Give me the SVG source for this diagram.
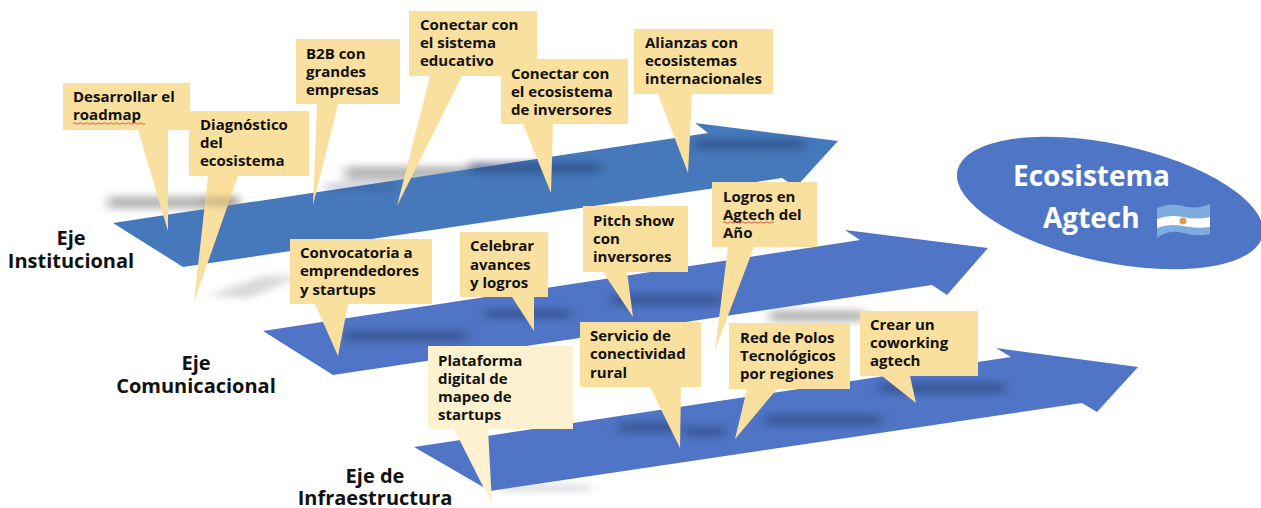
<svg xmlns="http://www.w3.org/2000/svg" width="1261" height="508" viewBox="0 0 1261 508">
<style>
.c{fill:#FAE09F}
.c2{fill:#FDF1CF}
.t{font:700 15px "Open Sans",sans-serif;fill:#111}
.l{font:700 20px "Open Sans",sans-serif;fill:#111;text-anchor:middle}
.w{font:700 28px "Open Sans",sans-serif;fill:#fff}
.a1{fill:#4679BC}
.a2{fill:#5175C6}
.sg{fill:#666;opacity:.45;filter:url(#b)}
.sd{fill:#2a4478;opacity:.55;filter:url(#b)}
.f{opacity:.25}
.sq{fill:none;stroke:#d9534a;stroke-width:1}
</style>
<defs>
<filter id="b" x="-30%" y="-200%" width="160%" height="500%"><feGaussianBlur stdDeviation="6 3.500"/></filter>
</defs>
<rect width="1261" height="508" fill="#fff"/>
<g id="sombras-fondo">
<rect class="sg" x="108" y="196" width="130" height="13"/>
<rect class="sg" x="345" y="166" width="140" height="15"/>
<polygon class="sg f" points="208,296 262,276 300,276 250,298"/>
<rect class="sg" x="770" y="310" width="95" height="12"/>
<rect class="sg f" x="500" y="485" width="90" height="6"/>
</g>
<g id="ejes">
<polygon id="eje-institucional" class="a1" points="113,223 708,133 695,123 838,141 796,187 782,178 183,267"/>
<polygon id="eje-comunicacional" class="a2" points="263,331 860,240 845,230 988,248 947,295 932,285 333,375"/>
<polygon id="eje-infraestructura" class="a2" points="414,447 1011,357 996,348 1138,367 1097,412 1082,403 490,491"/>
</g>
<g id="sombras-ejes">
<rect class="sd" x="470" y="162" width="130" height="12"/>
<rect class="sd" x="695" y="139" width="110" height="11"/>
<rect class="sd f" x="325" y="183" width="70" height="8"/>
<rect class="sd" x="345" y="330" width="120" height="12"/>
<rect class="sd" x="485" y="309" width="85" height="10"/>
<rect class="sd" x="612" y="294" width="110" height="12"/>
<rect class="sd" x="618" y="422" width="60" height="11"/>
<rect class="sd" x="685" y="426" width="40" height="11"/>
<rect class="sd" x="765" y="414" width="115" height="12"/>
<rect class="sd" x="880" y="382" width="125" height="12"/>
</g>
<g id="nodo-desarrollar">
<polygon class="c" points="63,83 190,83 190,130 168,130 168,231 138,130 63,130"/>
<text class="t" x="73" y="102">Desarrollar el</text><text class="t" x="73" y="120">roadmap</text>
<path class="sq" d="M73 123.500q1.500 -1.500 3 0t3 0t3 0t3 0t3 0t3 0t3 0t3 0t3 0t3 0t3 0t3 0t3 0t3 0t3 0t3 0t3 0t3 0t3 0t3 0t3 0t3 0t3 0t3 0"/>
</g>
<g id="nodo-diagnostico">
<polygon class="c" points="189,111 309,111 309,176 238,176 194,302 208,176 189,176"/>
<text class="t" x="200" y="130">Diagnóstico</text><text class="t" x="200" y="148">del</text><text class="t" x="200" y="166">ecosistema</text>
</g>
<rect x="203" y="197" width="34" height="9" fill="#8a7a50" opacity=".4" style="filter:url(#b)"/>
<g id="nodo-b2b">
<polygon class="c" points="296,39 400,39 400,104 338,104 313,205 317,104 296,104"/>
<text class="t" x="306" y="59">B2B con</text><text class="t" x="306" y="77">grandes</text><text class="t" x="306" y="95">empresas</text>
</g>
<g id="nodo-sistema-educativo">
<polygon class="c" points="409,11 537,11 537,76 462,76 397,206 430,76 409,76"/>
<text class="t" x="420" y="30">Conectar con</text><text class="t" x="420" y="48">el sistema</text><text class="t" x="420" y="66">educativo</text>
</g>
<g id="nodo-inversores">
<polygon class="c" points="501,59 628,59 628,124 553,124 551,193 523,124 501,124"/>
<text class="t" x="511" y="79">Conectar con</text><text class="t" x="511" y="97">el ecosistema</text><text class="t" x="511" y="115">de inversores</text>
</g>
<g id="nodo-alianzas">
<polygon class="c" points="634,29 773,29 773,94 692,94 688,173 658,94 634,94"/>
<text class="t" x="645" y="48">Alianzas con</text><text class="t" x="645" y="66">ecosistemas</text><text class="t" x="645" y="84">internacionales</text>
</g>
<g id="nodo-convocatoria">
<polygon class="c" points="290,239 432,239 432,304 348,304 338,356 315,304 290,304"/>
<text class="t" x="300" y="258">Convocatoria a</text><text class="t" x="300" y="276">emprendedores</text><text class="t" x="300" y="295">y startups</text>
</g>
<g id="nodo-celebrar">
<polygon class="c" points="460,232 548,232 548,297 534,297 534,331 512,297 460,297"/>
<text class="t" x="470" y="251">Celebrar</text><text class="t" x="470" y="270">avances</text><text class="t" x="470" y="288">y logros</text>
</g>
<g id="nodo-pitch">
<polygon class="c" points="583,206 688,206 688,272 627,272 633,317 603,272 583,272"/>
<text class="t" x="593" y="226">Pitch show</text><text class="t" x="593" y="244">con</text><text class="t" x="593" y="262">inversores</text>
</g>
<g id="nodo-logros">
<polygon class="c" points="712,182 817,182 817,247 754,247 715,350 728,247 712,247"/>
<text class="t" x="723" y="202">Logros en</text><text class="t" x="723" y="220">Agtech del</text><text class="t" x="723" y="238">Año</text>
<path class="sq" d="M723 222.500q1.500 -1.500 3 0t3 0t3 0t3 0t3 0t3 0t3 0t3 0t3 0t3 0t3 0t3 0t3 0t3 0t3 0t3 0t3 0"/>
</g>
<g id="nodo-servicio">
<polygon class="c" points="580,322 701,322 701,387 681,387 680,448 650,387 580,387"/>
<text class="t" x="590" y="341">Servicio de</text><text class="t" x="590" y="359">conectividad</text><text class="t" x="590" y="378">rural</text>
</g>
<g id="nodo-red">
<polygon class="c" points="729,323 850,323 850,389 777,389 735,439 747,389 729,389"/>
<text class="t" x="740" y="343">Red de Polos</text><text class="t" x="740" y="361">Tecnológicos</text><text class="t" x="740" y="379">por regiones</text>
</g>
<g id="nodo-coworking">
<polygon class="c" points="860,311 978,311 978,376 910,376 916,403 882,376 860,376"/>
<text class="t" x="870" y="330">Crear un</text><text class="t" x="870" y="348">coworking</text><text class="t" x="870" y="366">agtech</text>
</g>
<g id="nodo-plataforma">
<polygon class="c2" points="428,346 573,346 573,429 488,429 492,504 454,429 428,429"/>
<text class="t" x="438" y="366">Plataforma</text><text class="t" x="438" y="384">digital de</text><text class="t" x="438" y="402">mapeo de</text><text class="t" x="438" y="420">startups</text>
</g>
<g id="etiqueta-institucional"><text class="l" x="71" y="245">Eje</text><text class="l" x="71" y="268">Institucional</text></g>
<g id="etiqueta-comunicacional"><text class="l" x="196" y="370">Eje</text><text class="l" x="196" y="393">Comunicacional</text></g>
<g id="etiqueta-infraestructura"><text class="l" x="375" y="483">Eje de</text><text class="l" x="375" y="505">Infraestructura</text></g>
<g id="nodo-ecosistema">
<ellipse cx="1110" cy="203" rx="156" ry="59" transform="rotate(12 1110 203)" fill="#4F75C6"/>
<text class="w" x="1013" y="186">Ecosistema</text>
<text class="w" x="1043" y="228">Agtech</text>
<path d="M1157 208q13 -6 26 -2t27 -2v30q-13 3 -27 -1t-26 5z" fill="#7FACDF"/>
<path d="M1157 219q13 -5 26 -2t27 0v10q-13 2 -27 -1t-26 2z" fill="#fff"/>
<circle cx="1183" cy="221" r="3.500" fill="#D9A04E"/>
</g>
</svg>
